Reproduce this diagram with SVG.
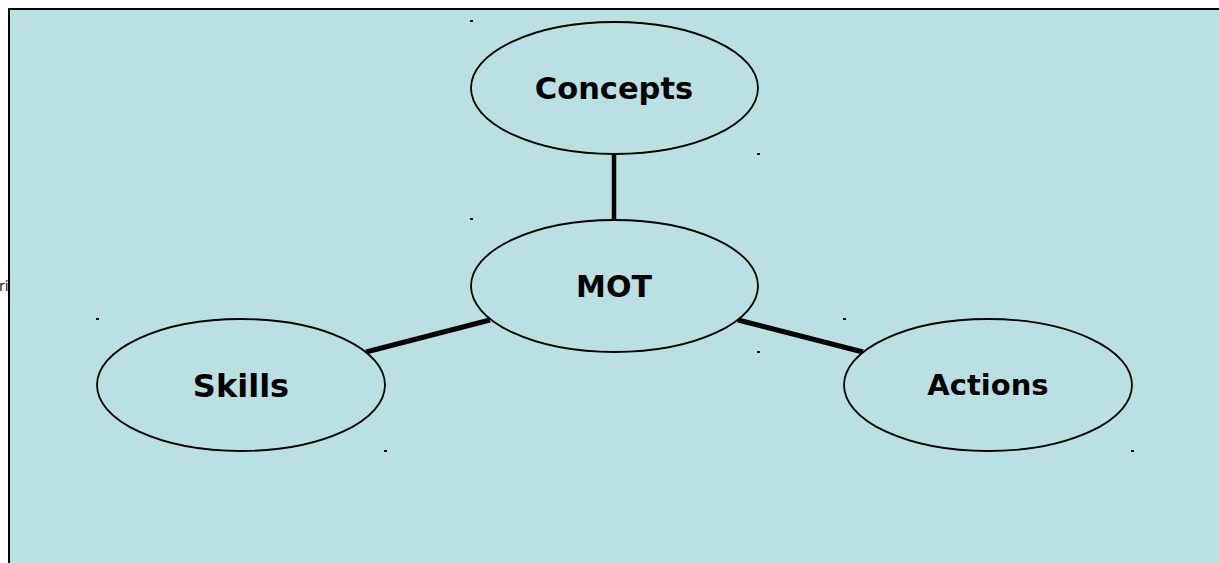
<svg xmlns="http://www.w3.org/2000/svg" width="1219" height="563" viewBox="0 0 1219 563">
<style>
.node ellipse{fill:#BAE0E3;stroke:#000;stroke-width:1.8}
.lbl{font-family:"DejaVu Sans",sans-serif;font-weight:bold;fill:#000;text-anchor:middle}
.dot{fill:#111}
.edge{stroke:#000;stroke-linecap:butt;fill:none}
</style>
<rect width="1219" height="563" fill="#fff"/>
<rect x="9" y="9" width="1220" height="570" fill="#BAE0E3" stroke="#000" stroke-width="2"/>
<text x="-1" y="291" font-family="DejaVu Sans, sans-serif" font-size="14" fill="#222">ri</text>
<g id="connectors">
<line class="edge" x1="614" y1="154" x2="614" y2="220" stroke-width="4.5"/>
<line class="edge" x1="490" y1="320" x2="366" y2="352" stroke-width="5"/>
<line class="edge" x1="738" y1="320" x2="863" y2="352" stroke-width="5"/>
</g>
<g id="concepts" class="node">
<ellipse cx="614.5" cy="88" rx="143.5" ry="66"/>
<text class="lbl" x="614" y="99" font-size="30.5">Concepts</text>
<rect class="dot" x="470" y="20" width="3" height="2"/>
<rect class="dot" x="757" y="153" width="3" height="2"/>
</g>
<g id="mot" class="node">
<ellipse cx="614.5" cy="286" rx="143.5" ry="66"/>
<text class="lbl" x="614" y="297" font-size="30">MOT</text>
<rect class="dot" x="470" y="218" width="3" height="2"/>
<rect class="dot" x="757" y="351" width="3" height="2"/>
</g>
<g id="skills" class="node">
<ellipse cx="241" cy="385" rx="144" ry="66"/>
<text class="lbl" x="241" y="397" font-size="32">Skills</text>
<rect class="dot" x="96" y="318" width="3" height="2"/>
<rect class="dot" x="384" y="450" width="3" height="2"/>
</g>
<g id="actions" class="node">
<ellipse cx="988" cy="385" rx="144" ry="66"/>
<text class="lbl" x="988" y="395" font-size="29">Actions</text>
<rect class="dot" x="843" y="318" width="3" height="2"/>
<rect class="dot" x="1131" y="450" width="3" height="2"/>
</g>
</svg>
